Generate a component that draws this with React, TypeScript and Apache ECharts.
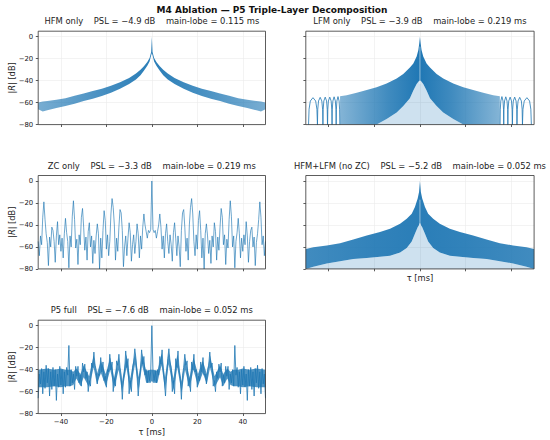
import React, { useEffect, useRef } from "react";
import * as echarts from "echarts";

// ---------- axes ----------
const TAU_TICKS = [-40, -20, 0, 20, 40];
const DB_TICKS = [-80, -60, -40, -20, 0];

// |R(τ)| is symmetric, so each panel is read for τ ≥ 0 and mirrored.

// Panel 1 — HFM only: dense oscillation band (upper / lower edges)
const HFM_TAU = [0, 0.3, 1, 2, 3.5, 5, 7, 10, 14, 18, 22, 26, 30, 34, 38, 42, 46, 48, 50];
const HFM_UPPER = [0, -14, -19.5, -23, -27, -30, -33.6, -37.5, -41.5, -44.6, -47.3, -49.5, -51.6, -53.7, -56, -57.4, -58.6, -59, -60];
const HFM_LOWER = [-15, -17, -22.5, -26.5, -31, -35, -39, -43, -47.3, -51, -54, -56.5, -58.6, -61, -63, -65, -67, -68, -66];

// Panel 2 — LFM only: dense band + individual sidelobe arcs near the edges
const LFM_TAU = [0, 0.3, 0.7, 1.45, 2.9, 4.4, 7.3, 10.2, 14.6, 19, 23.3, 27.7, 32.1, 35];
const LFM_UPPER = [0, -6, -12, -18, -24.3, -28, -34, -38, -42.5, -46, -48.6, -51, -53.2, -54.2];
const LFM_DARK_LOWER = [-40, -40, -41, -43, -49, -56, -63, -69, -75, -80, -80, -80, -80, -80];
const LFM_FLOOR = [-80, -80, -80, -80, -80, -80, -80, -80, -80, -80, -80, -80, -80, -80];
const LFM_GAP_DB = [-9, -43];
const LFM_ARC_TAU = [
  35.1, 35.2, 35.42, 35.9, 36.38, 36.6, 36.7,
  36.8, 37.06, 37.6, 38.14, 38.4, 38.5,
  38.62, 38.9, 39.5, 40.1, 40.38, 40.5,
  40.62, 40.9, 41.5, 42.1, 42.38, 42.5,
  42.64, 42.98, 43.7, 44.42, 44.76, 44.9,
  45.13, 45.68, 46.85, 48.02, 48.57, 48.8,
];
const LFM_ARC_DB = [
  -80, -66, -58.5, -54.5, -58.5, -66, -80,
  -66, -58.5, -54.7, -58.5, -66, -80,
  -66, -58.5, -55, -58.5, -66, -80,
  -66, -58.5, -55, -58.5, -66, -80,
  -66, -58.5, -55.2, -58.5, -66, -80,
  -66, -58.5, -55.5, -58.5, -66, -80,
];

// Panel 3 — ZC only: sampled every 0.5 ms from τ = 0 to 50
const ZC_STEP = 0.5;
const ZC_DB = [
  0, -44, -47, -45, -52, -46, -40, -30, -42, -62,
  -50, -70, -48, -39, -55, -66, -49, -58, -73, -47,
  -38, -52, -68, -50, -60, -78, -45, -29, -26, -42,
  -64, -52, -72, -40, -24, -16, -30, -55, -68, -49,
  -62, -36, -27, -45, -70, -52, -80, -48, -39, -50,
  -66, -54, -75, -50, -60, -38, -46, -72, -51, -63,
  -42, -25, -33, -58, -49, -76, -53, -61, -35, -18,
  -32, -60, -50, -79, -55, -47, -34, -48, -70, -52,
  -64, -49, -58, -37, -50, -74, -55, -45, -42, -60,
  -51, -77, -56, -48, -35, -19, -33, -58, -50, -68,
  -55,
];

// Panel 4 — HFM+LFM (no ZC): dense band + lighter floor region
const HL_TAU = [0, 0.4, 1, 2.2, 3.6, 5.8, 8.7, 13.1, 17.5, 23.3, 29.2, 35, 40.8, 46.7, 50];
const HL_UPPER = [0, -10, -16, -23.7, -29.8, -34.4, -39, -43.5, -46.5, -49.6, -53.3, -56.6, -58.7, -60.2, -62];
const HL_DARK_LOWER = [-38, -40, -42, -48, -55, -61, -65, -68, -69, -70, -71, -73, -75, -78, -80];
const HL_FLOOR = [-80, -80, -80, -80, -80, -80, -80, -80, -80, -80, -80, -80, -80, -80, -80];
const HL_GAP_DB = [-17, -41];

// Panel 5 — P5 full: dense core band + trace sampled every 0.5 ms
const P5_BAND_TAU = [0, 0.5, 2.5, 3.2, 4.3, 5.8, 7.4, 9.5, 11.2, 13.1, 14.6, 16.6, 18.3, 20.3, 22.4, 24.2, 25.6, 27.6, 30, 31.4, 33.2, 34.6, 36, 38, 40, 43, 46, 50];
const P5_BAND_UPPER = [-40, -40, -41, -35, -25, -47, -24, -48, -26, -51, -29, -47, -29, -44, -32, -44, -27, -46, -36, -44, -39, -42, -40, -40, -39, -40, -39, -40];
const P5_BAND_LOWER = [-50, -52, -52, -45, -36, -59, -35, -59, -38, -61, -40, -57, -40, -55, -43, -53, -38, -56, -47, -55, -48, -54, -55, -55, -56, -55, -56, -56];
const P5_STEP = 0.5;
const P5_DB = [
  0, -42, -50, -41, -52, -40, -45, -28, -35, -22,
  -40, -50, -64, -46, -30, -21, -33, -38, -60, -50,
  -62, -30, -38, -23, -42, -48, -67, -45, -38, -26,
  -36, -32, -55, -48, -60, -33, -40, -26, -42, -40,
  -56, -46, -50, -33, -42, -29, -45, -44, -53, -40,
  -36, -24, -38, -34, -55, -50, -60, -42, -48, -35,
  -42, -34, -55, -45, -52, -37, -46, -37, -58, -44,
  -52, -40, -55, -18, -45, -38, -56, -42, -62, -40,
  -54, -37, -56, -44, -68, -40, -55, -38, -58, -42,
  -64, -39, -52, -36, -57, -42, -62, -39, -53, -44,
  -66,
];

const TITLES = [
  "HFM only    PSL = \u22124.9 dB    main-lobe = 0.115 ms",
  "LFM only    PSL = \u22123.9 dB    main-lobe = 0.219 ms",
  "ZC only    PSL = \u22123.3 dB    main-lobe = 0.219 ms",
  "HFM+LFM (no ZC)    PSL = \u22125.2 dB    main-lobe = 0.052 ms",
  "P5 full    PSL = \u22127.6 dB    main-lobe = 0.052 ms",
];
const SUPTITLE = "M4 Ablation \u2014 P5 Triple-Layer Decomposition";

// ---------- layout / style ----------
const BLUE = "#1f77b4";
const FONT = "DejaVu Sans";
const BOXES = [
  { left: 38.2, top: 31.2, width: 227.3, height: 93.4 },
  { left: 305.8, top: 31.2, width: 228.3, height: 93.4 },
  { left: 38.2, top: 175.5, width: 227.3, height: 93.4 },
  { left: 305.8, top: 175.5, width: 228.3, height: 93.4 },
  { left: 38.2, top: 320.2, width: 227.3, height: 93.4 },
];

const fmt = (v: number) => (v < 0 ? "\u2212" + Math.abs(v) : String(v));
const blue = (a: number) => `rgba(31,119,180,${a})`;

function mirrorTau(tau: number[]): number[] {
  const neg = tau.filter((t) => t > 0).map((t) => -t).reverse();
  return [...neg, ...tau];
}
function mirrorVals(tau: number[], vals: number[]): number[] {
  const neg = vals.filter((_, k) => tau[k] > 0).reverse();
  return [...neg, ...vals];
}
function gridTau(vals: number[], step: number): number[] {
  return vals.map((_, k) => k * step);
}

// filled region between two traces, drawn through the grid's own scales
function band(gi: number, tau: number[], upper: number[], lower: number[], fill: any) {
  const t = mirrorTau(tau);
  const u = mirrorVals(tau, upper);
  const l = mirrorVals(tau, lower);
  const pts = [...t.map((x, k) => [x, u[k]]), ...t.map((x, k) => [x, l[k]]).reverse()];
  return {
    type: "custom",
    xAxisIndex: gi,
    yAxisIndex: gi,
    silent: true,
    z: 2,
    data: [pts[0]],
    renderItem: (_p: any, api: any) => ({
      type: "polygon",
      shape: { points: pts.map((p) => api.coord(p)) },
      style: { fill, stroke: "none" },
    }),
  };
}

function line(gi: number, tau: number[], vals: number[], width: number, color: string) {
  const t = mirrorTau(tau);
  const v = mirrorVals(tau, vals);
  return {
    type: "line",
    xAxisIndex: gi,
    yAxisIndex: gi,
    symbol: "none",
    silent: true,
    z: 3,
    data: t.map((x, k) => [x, v[k]]),
    lineStyle: { width, color },
  };
}

function centreGap(gi: number, dbs: number[]) {
  return {
    type: "line",
    xAxisIndex: gi,
    yAxisIndex: gi,
    symbol: "none",
    silent: true,
    z: 4,
    data: dbs.map((d) => [0, d]),
    lineStyle: { width: 0.8, color: "rgba(255,255,255,0.65)" },
  };
}

function arcs(gi: number, sign: number) {
  return {
    type: "line",
    xAxisIndex: gi,
    yAxisIndex: gi,
    symbol: "none",
    silent: true,
    z: 3,
    data: LFM_ARC_TAU.map((t, k) => [sign * t, LFM_ARC_DB[k]]),
    lineStyle: { width: 0.8, color: BLUE },
  };
}

function hGrad(edge: number, mid: number) {
  return new echarts.graphic.LinearGradient(0, 0, 1, 0, [
    { offset: 0, color: blue(edge) },
    { offset: 0.3, color: blue((edge + 2 * mid) / 3) },
    { offset: 0.5, color: blue(mid) },
    { offset: 0.7, color: blue((edge + 2 * mid) / 3) },
    { offset: 1, color: blue(edge) },
  ]);
}

function buildOption() {
  const tickLine = { color: "#333", width: 0.8 };
  const split = { show: true, lineStyle: { color: "#ebebeb", width: 0.6 } };
  const labelBase = { fontSize: 6.9, fontFamily: FONT, color: "#222", formatter: fmt };

  const graphic: any[] = [];
  BOXES.forEach((b, i) => {
    graphic.push({
      type: "rect",
      z: 100,
      silent: true,
      shape: { x: b.left, y: b.top, width: b.width, height: b.height },
      style: { fill: "none", stroke: "#333", lineWidth: 0.8 },
    });
    graphic.push({
      type: "text",
      z: 100,
      x: b.left + b.width / 2,
      y: b.top - 9.8,
      style: {
        text: TITLES[i],
        fontSize: 8.4,
        fontFamily: FONT,
        fill: "#222",
        align: "center",
        verticalAlign: "middle",
      },
    });
    if (i % 2 === 0) {
      graphic.push({
        type: "text",
        z: 100,
        x: 11.7,
        y: b.top + b.height / 2,
        rotation: Math.PI / 2,
        style: {
          text: "|{i|R}| [dB]",
          fontSize: 8.3,
          fontFamily: FONT,
          fill: "#222",
          align: "center",
          verticalAlign: "middle",
          rich: { i: { fontStyle: "italic", fontSize: 8.3, fontFamily: FONT, fill: "#222" } },
        },
      });
    }
    if (i >= 3) {
      graphic.push({
        type: "text",
        z: 100,
        x: b.left + b.width / 2,
        y: b.top + b.height + (i === 4 ? 18.2 : 8.6),
        style: {
          text: "\u03c4 [ms]",
          fontSize: 8.3,
          fontFamily: FONT,
          fill: "#222",
          align: "center",
          verticalAlign: "middle",
        },
      });
    }
  });
  graphic.push({
    type: "text",
    z: 100,
    x: 272,
    y: 10,
    style: {
      text: SUPTITLE,
      fontSize: 9,
      fontWeight: "bold",
      fontFamily: FONT,
      fill: "#111",
      align: "center",
      verticalAlign: "middle",
    },
  });

  const series: any[] = [
    band(0, HFM_TAU, HFM_UPPER, HFM_LOWER, hGrad(0.6, 0.95)),
    band(1, LFM_TAU, LFM_DARK_LOWER, LFM_FLOOR, blue(0.22)),
    band(1, LFM_TAU, LFM_UPPER, LFM_DARK_LOWER, hGrad(0.55, 1)),
    centreGap(1, LFM_GAP_DB),
    arcs(1, -1),
    arcs(1, 1),
    line(2, gridTau(ZC_DB, ZC_STEP), ZC_DB, 0.65, BLUE),
    band(3, HL_TAU, HL_DARK_LOWER, HL_FLOOR, blue(0.22)),
    band(3, HL_TAU, HL_UPPER, HL_DARK_LOWER, hGrad(0.85, 0.95)),
    centreGap(3, HL_GAP_DB),
    band(4, P5_BAND_TAU, P5_BAND_UPPER, P5_BAND_LOWER, blue(0.78)),
    line(4, gridTau(P5_DB, P5_STEP), P5_DB, 0.8, BLUE),
  ];

  return {
    animation: false,
    backgroundColor: "#fff",
    grid: BOXES.map((b) => ({ ...b, show: false, containLabel: false })),
    xAxis: BOXES.map((_, i) => ({
      gridIndex: i,
      type: "value",
      min: -50,
      max: 50,
      axisLine: { show: false, onZero: false },
      axisTick: { show: true, length: 2.4, customValues: TAU_TICKS, lineStyle: tickLine },
      axisLabel: { ...labelBase, show: i === 4, customValues: TAU_TICKS, margin: 4.5 },
      splitLine: split,
    })),
    yAxis: BOXES.map((_, i) => ({
      gridIndex: i,
      type: "value",
      min: -80,
      max: 5,
      axisLine: { show: false, onZero: false },
      axisTick: { show: true, length: 2.4, customValues: DB_TICKS, lineStyle: tickLine },
      axisLabel: { ...labelBase, show: i % 2 === 0, customValues: DB_TICKS, margin: 5 },
      splitLine: split,
    })),
    series,
    graphic,
  };
}

export default function App() {
  const ref = useRef<HTMLDivElement>(null);
  useEffect(() => {
    if (!ref.current) return;
    const chart = echarts.init(ref.current, undefined, { renderer: "svg" });
    chart.setOption(buildOption() as any);
    return () => chart.dispose();
  }, []);
  return (
    <div
      ref={ref}
      style={{ position: "fixed", left: 0, top: 0, width: 550, height: 440, background: "#fff" }}
    />
  );
}
